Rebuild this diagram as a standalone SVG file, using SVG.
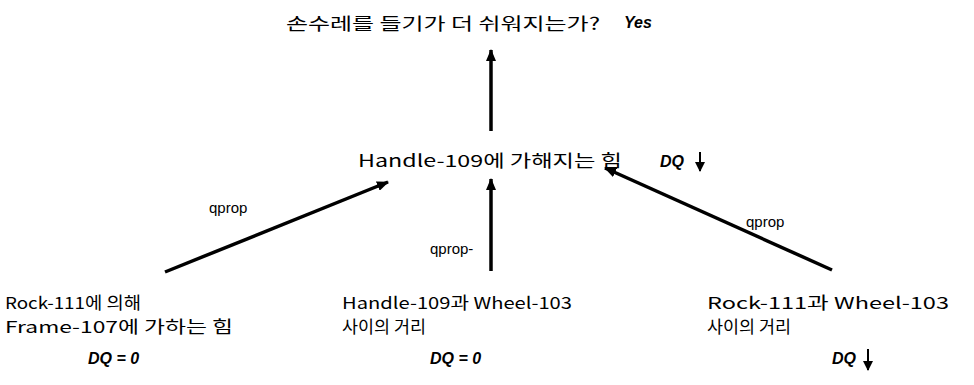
<svg xmlns="http://www.w3.org/2000/svg" width="974" height="385" viewBox="0 0 974 385">
  <style>
    .t { font-family: "Noto Sans CJK KR", "Liberation Sans", sans-serif; font-size: 17px; fill: #000; }
    .b { font-family: "Noto Sans CJK KR", "Liberation Sans", sans-serif; font-size: 16.5px; fill: #000; }
    .q { font-family: "Liberation Sans", "Noto Sans", sans-serif; font-size: 15px; fill: #000; }
    .dq { font-family: "Liberation Sans", sans-serif; font-size: 16px; font-weight: bold; font-style: italic; fill: #000; }
    .link { stroke: #000; stroke-width: 3.5; fill: none; marker-end: url(#head); }
    .down { stroke: #000; stroke-width: 2; fill: none; marker-end: url(#smallhead); }
  </style>
  <defs>
    <marker id="head" viewBox="0 0 12 10" refX="11" refY="5" markerWidth="12" markerHeight="10" markerUnits="userSpaceOnUse" orient="auto">
      <path d="M0,0 L12,5 L0,10 Z" fill="#000"/>
    </marker>
    <marker id="smallhead" viewBox="0 0 10 10" refX="9" refY="5" markerWidth="10" markerHeight="10" markerUnits="userSpaceOnUse" orient="auto">
      <path d="M0,0 L10,5 L0,10 Z" fill="#000"/>
    </marker>
  </defs>

  <!-- influence links with their labels -->
  <g id="connectors">
    <line class="link" x1="491" y1="131" x2="491" y2="50"/>
    <line class="link" x1="491" y1="271" x2="491" y2="179"/>
    <line class="link" x1="165" y1="272" x2="388" y2="182"/>
    <line class="link" x1="832" y1="270" x2="605" y2="168"/>
    <text class="q" x="209" y="213">qprop</text>
    <text class="q" x="430" y="254">qprop-</text>
    <text class="q" x="746" y="227">qprop</text>
  </g>

  <g id="goal">
    <text class="t" x="286" y="30" textLength="314" lengthAdjust="spacingAndGlyphs">손수레를 들기가 더 쉬워지는가?</text>
    <text class="dq" x="624" y="28">Yes</text>
  </g>

  <g id="handle-force">
    <text class="t" x="358" y="167" textLength="264" lengthAdjust="spacingAndGlyphs">Handle-109에 가해지는 힘</text>
    <text class="dq" x="660" y="167">DQ</text>
    <line class="down" x1="700" y1="152" x2="700" y2="171"/>
  </g>

  <g id="frame-force">
    <text class="b" x="5" y="309" textLength="136" lengthAdjust="spacingAndGlyphs">Rock-111에 의해</text>
    <text class="b" x="5" y="333" textLength="228" lengthAdjust="spacingAndGlyphs">Frame-107에 가하는 힘</text>
    <text class="dq" x="88" y="364">DQ = 0</text>
  </g>

  <g id="handle-wheel-distance">
    <text class="b" x="342" y="309" textLength="230" lengthAdjust="spacingAndGlyphs">Handle-109과 Wheel-103</text>
    <text class="b" x="342" y="333" textLength="84" lengthAdjust="spacingAndGlyphs">사이의 거리</text>
    <text class="dq" x="430" y="364">DQ = 0</text>
  </g>

  <g id="rock-wheel-distance">
    <text class="b" x="707" y="309" textLength="242" lengthAdjust="spacingAndGlyphs">Rock-111과 Wheel-103</text>
    <text class="b" x="707" y="333" textLength="84" lengthAdjust="spacingAndGlyphs">사이의 거리</text>
    <text class="dq" x="832" y="364">DQ</text>
    <line class="down" x1="868" y1="349" x2="868" y2="370"/>
  </g>
</svg>
